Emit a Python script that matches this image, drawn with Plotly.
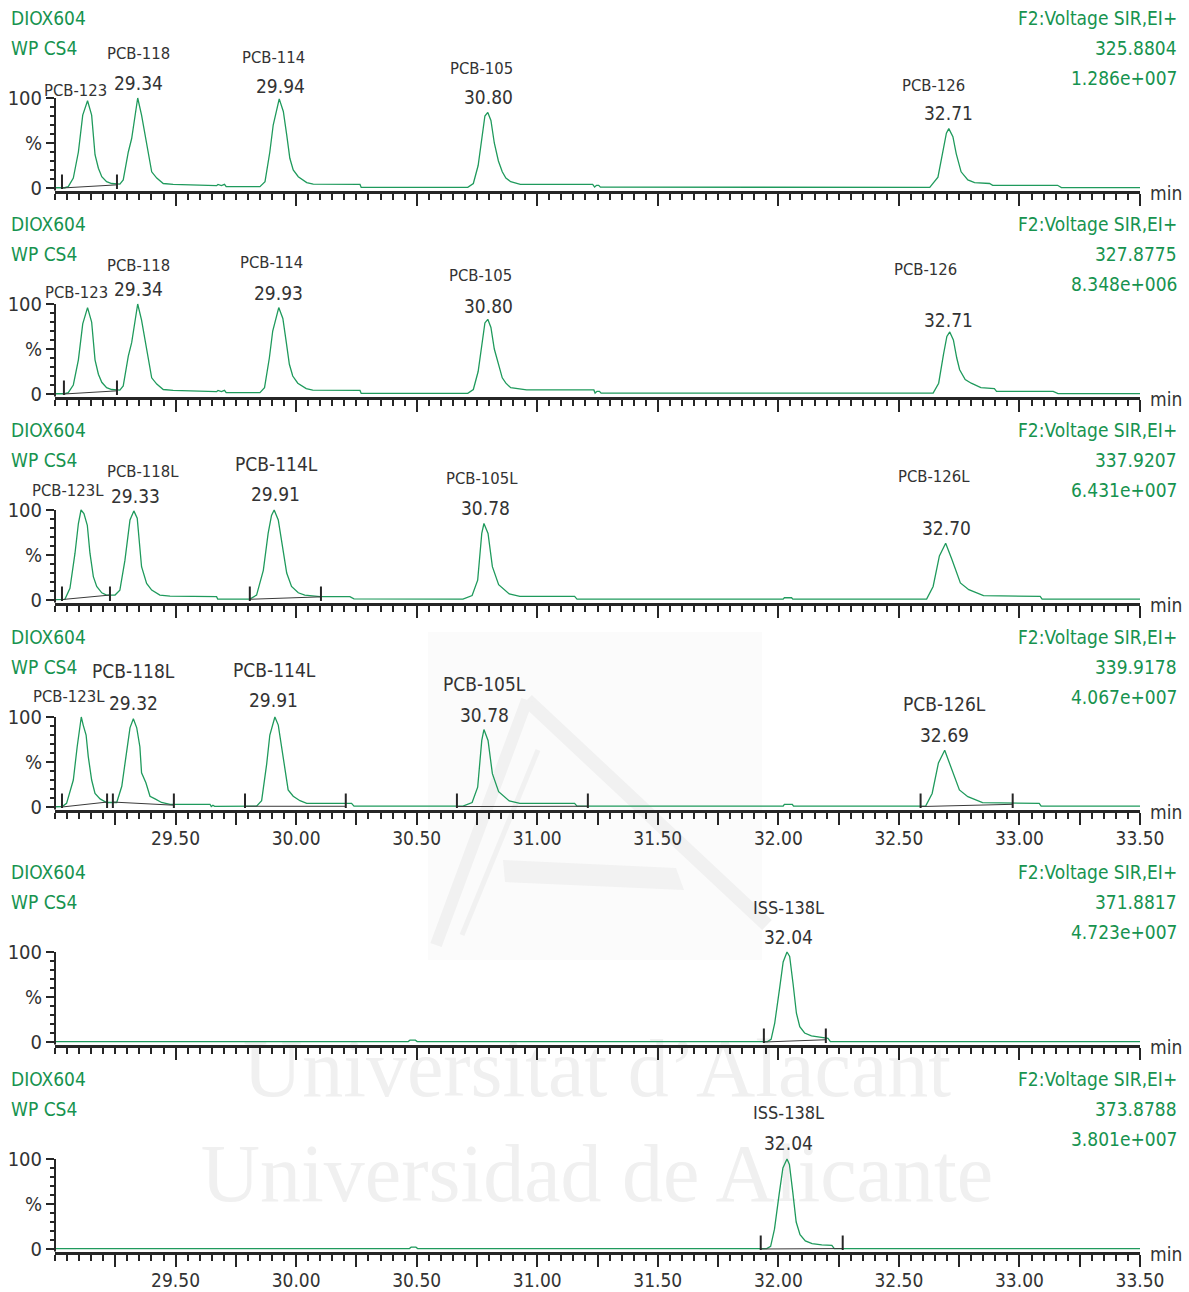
import plotly.graph_objects as go

# ---------------- data ----------------
sample_name = "DIOX604"
sample_desc = "WP CS4"
function_label = "F2:Voltage SIR,EI+"
masses = ["325.8804", "327.8775", "337.9207", "339.9178", "371.8817", "373.8788"]
intensities = ["1.286e+007", "8.348e+006", "6.431e+007", "4.067e+007", "4.723e+007", "3.801e+007"]

tick_labels = ["29.50", "30.00", "30.50", "31.00", "31.50", "32.00", "32.50", "33.00", "33.50"]

# chromatogram traces: (time [min], relative intensity [%])
trace_325 = [(29.000, 0.3), (29.040, 0.3), (29.055, 1.5), (29.076, 11), (29.097, 40), (29.115, 81), (29.135, 97),
             (29.152, 81), (29.166, 37), (29.180, 22), (29.194, 12.6), (29.214, 7), (29.235, 5), (29.269, 4.4),
             (29.283, 9), (29.304, 40), (29.318, 55), (29.343, 100), (29.359, 81), (29.373, 61), (29.387, 37),
             (29.401, 18), (29.422, 11), (29.449, 5), (29.490, 4), (29.670, 2.6), (29.676, 4), (29.690, 2.6),
             (29.703, 4), (29.710, 1.5), (29.850, 1.5),
             (29.871, 7), (29.891, 40), (29.905, 70), (29.930, 99), (29.947, 85), (29.961, 59), (29.974, 33),
             (29.988, 20), (30.009, 12.6), (30.044, 6), (30.071, 4.4), (30.265, 4), (30.270, 0.7),
             (30.712, 0.7), (30.735, 5), (30.755, 25), (30.770, 55), (30.783, 80), (30.795, 84), (30.808, 75),
             (30.822, 50), (30.839, 30), (30.855, 18), (30.870, 11), (30.890, 7), (30.930, 4), (31.230, 4),
             (31.238, 1), (31.246, 3), (31.255, 3), (31.262, 1),
             (32.628, 0.7), (32.662, 12), (32.683, 42), (32.697, 61), (32.707, 66), (32.724, 57), (32.738, 38),
             (32.758, 18), (32.786, 9), (32.814, 6), (32.876, 5), (32.889, 3), (33.158, 3), (33.174, 0.5),
             (33.500, 0.5)]

trace_327 = [(29.000, 0.3), (29.040, 0.3), (29.055, 1.5), (29.076, 10), (29.097, 38), (29.115, 78), (29.135, 96),
             (29.152, 80), (29.166, 38), (29.180, 22), (29.194, 13), (29.214, 7), (29.235, 5), (29.269, 4.4),
             (29.283, 9), (29.304, 42), (29.318, 57), (29.343, 100), (29.359, 82), (29.373, 60), (29.387, 36),
             (29.401, 18), (29.422, 11), (29.449, 5), (29.490, 4), (29.670, 2.6), (29.676, 4), (29.690, 2.6),
             (29.703, 4), (29.710, 1.5), (29.850, 1.5),
             (29.869, 7), (29.889, 40), (29.903, 70), (29.928, 96), (29.945, 84), (29.959, 58), (29.972, 33),
             (29.986, 20), (30.007, 12), (30.042, 6), (30.069, 4.4), (30.265, 4), (30.270, 0.7),
             (30.712, 0.7), (30.735, 5), (30.755, 25), (30.770, 55), (30.783, 79), (30.795, 83), (30.808, 74),
             (30.822, 50), (30.839, 32), (30.855, 18), (30.870, 12), (30.890, 7), (30.956, 4.5), (31.235, 4.5),
             (31.240, 1), (31.248, 3), (31.258, 3), (31.265, 1),
             (32.642, 1), (32.665, 12), (32.685, 44), (32.699, 64), (32.711, 69), (32.726, 60), (32.740, 40),
             (32.752, 27), (32.775, 16), (32.800, 12), (32.840, 7), (32.896, 6), (32.905, 3), (33.140, 3),
             (33.160, 0.5), (33.500, 0.5)]

trace_337 = [(29.000, 0.5), (29.041, 0.8), (29.062, 13), (29.083, 52), (29.097, 85), (29.108, 100), (29.120, 96),
             (29.134, 83), (29.145, 52), (29.159, 26), (29.173, 15), (29.194, 8), (29.214, 5.5), (29.249, 5.5),
             (29.269, 11), (29.290, 44), (29.311, 89), (29.327, 99), (29.341, 91), (29.359, 37), (29.380, 18.5),
             (29.401, 11), (29.435, 5.5), (29.477, 4.4), (29.670, 3.7), (29.675, 1), (29.808, 1),
             (29.836, 5.5), (29.864, 33), (29.884, 74), (29.898, 94), (29.909, 100), (29.926, 89), (29.944, 56),
             (29.961, 30), (29.981, 15), (30.009, 8), (30.036, 5.5), (30.099, 3.7), (30.223, 3.7), (30.240, 1.2),
             (30.692, 1), (30.730, 5), (30.753, 22), (30.770, 74), (30.779, 85), (30.796, 74), (30.814, 37),
             (30.840, 17), (30.884, 6.7), (30.928, 4), (31.155, 4), (31.165, 1),
             (32.020, 1), (32.025, 2.5), (32.055, 2.5), (32.060, 1),
             (32.615, 1), (32.642, 15), (32.668, 49), (32.694, 63), (32.720, 45), (32.755, 19), (32.790, 11.5),
             (32.851, 4.8), (33.086, 4), (33.094, 1), (33.500, 1)]

trace_339 = [(29.000, 0.3), (29.030, 0.5), (29.048, 4), (29.076, 30), (29.092, 67), (29.104, 95), (29.109, 100),
             (29.117, 91), (29.129, 80), (29.138, 56), (29.152, 30), (29.166, 15), (29.187, 9), (29.214, 5),
             (29.240, 4.5),
             (29.256, 5), (29.277, 23), (29.297, 60), (29.311, 88), (29.325, 98), (29.339, 88), (29.352, 67),
             (29.359, 38), (29.377, 27), (29.394, 12), (29.415, 9), (29.442, 5), (29.477, 3), (29.643, 3),
             (29.648, 0.5), (29.655, 2), (29.662, 0.8), (29.836, 1),
             (29.857, 7), (29.878, 48), (29.891, 80), (29.912, 100), (29.926, 91), (29.940, 67), (29.954, 41),
             (29.967, 19), (29.988, 12), (30.016, 7), (30.044, 4), (30.230, 4), (30.240, 1),
             (30.692, 1), (30.730, 5), (30.753, 22), (30.770, 74), (30.779, 86), (30.796, 74), (30.814, 37),
             (30.840, 17), (30.884, 6.7), (30.928, 4), (31.155, 4), (31.165, 1),
             (32.020, 1), (32.025, 3), (32.058, 3), (32.063, 1),
             (32.611, 1), (32.638, 15), (32.664, 49), (32.690, 63), (32.716, 45), (32.751, 19), (32.786, 11.5),
             (32.847, 4.8), (33.082, 4), (33.090, 1), (33.500, 1)]

trace_371 = [(29.000, 0.5), (30.465, 0.5), (30.472, 2), (30.495, 2), (30.502, 0.5), (31.955, 0.5),
             (31.970, 3), (31.985, 21), (32.006, 61), (32.020, 89), (32.036, 100), (32.047, 95), (32.061, 65),
             (32.075, 32), (32.089, 17), (32.109, 10), (32.137, 6.7), (32.172, 5), (32.206, 4), (32.216, 0.5),
             (33.500, 0.5)]

trace_373 = [(29.000, 0.5), (30.470, 0.5), (30.477, 2), (30.497, 2), (30.504, 0.5), (31.952, 0.5),
             (31.968, 3), (31.984, 22), (32.004, 62), (32.019, 90), (32.036, 100), (32.046, 94), (32.060, 63),
             (32.074, 30), (32.090, 16), (32.112, 9), (32.140, 6), (32.180, 4.5), (32.222, 4), (32.232, 0.5),
             (33.500, 0.5)]

traces = [trace_325, trace_327, trace_337, trace_339, trace_371, trace_373]

# integration limits (time) and integration baselines (t0, y0, t1, y1)
int_marks = [
    [29.029, 29.257],
    [29.037, 29.257],
    [29.029, 29.228, 29.808, 30.103],
    [29.029, 29.216, 29.240, 29.493, 29.788, 30.206, 30.667, 31.210, 32.590, 32.972],
    [31.940, 32.197],
    [31.927, 32.267],
]
int_baselines = [
    [(29.029, 0, 29.257, 3.5)],
    [(29.037, 0, 29.257, 3.5)],
    [(29.029, 0.5, 29.228, 5.5), (29.808, 0.8, 30.103, 3.5)],
    [(29.029, 0, 29.216, 5.5), (29.240, 5.5, 29.493, 2), (29.788, 0.8, 30.206, 0.8),
     (30.667, 0.5, 31.210, 0.8), (32.590, 0.5, 32.972, 3)],
    [(31.940, 0, 32.197, 2.5)],
    [(31.927, 0, 32.267, 0.5)],
]

# peak annotation texts per panel
peak_texts = [
    ["PCB-123", "PCB-118", "29.34", "PCB-114", "29.94", "PCB-105", "30.80", "PCB-126", "32.71"],
    ["PCB-123", "PCB-118", "29.34", "PCB-114", "29.93", "PCB-105", "30.80", "PCB-126", "32.71"],
    ["PCB-123L", "PCB-118L", "29.33", "PCB-114L", "29.91", "PCB-105L", "30.78", "PCB-126L", "32.70"],
    ["PCB-123L", "PCB-118L", "29.32", "PCB-114L", "29.91", "PCB-105L", "30.78", "PCB-126L", "32.69"],
    ["ISS-138L", "32.04"],
    ["ISS-138L", "32.04"],
]

# ---------------- layout / style ----------------
W, H = 1189, 1292
FONT = "DejaVu Sans Condensed, Liberation Sans Narrow, Arial Narrow, sans-serif"
GREEN = "#17934f"
TRACE = "#1f9a5c"
DARK = "#262626"
TEXT = "#333333"
X0PX, X1PX = 55, 1140
Y_LO, Y_HI = -3, 112
PXU = 0.9  # pixels per percent
panel_p0 = [188, 394, 600, 807, 1042, 1249]
labelled = [3, 5]
HDR = 19
NUM = 19
SMALL = 16.5
BIG = 19

# label pixel positions (x centre, y centre, font size)
peak_pos = [
    [(75, 90, SMALL), (138, 53, SMALL), (138, 83, NUM), (273, 58, SMALL), (280, 86, NUM), (482, 69, SMALL),
     (488, 97, NUM), (933, 86, SMALL), (948, 113, NUM)],
    [(76, 293, SMALL), (138, 265, SMALL), (138, 289, NUM), (271, 262, SMALL), (278, 293, NUM),
     (480, 275, SMALL), (488, 306, NUM), (925, 270, SMALL), (948, 320, NUM)],
    [(68, 491, SMALL), (143, 471, SMALL), (135, 496, NUM), (276, 464, BIG), (275, 494, NUM),
     (482, 478, SMALL), (485, 508, NUM), (934, 476, SMALL), (946, 528, NUM)],
    [(69, 696, SMALL), (133, 671, BIG), (133, 703, NUM), (274, 670, BIG), (273, 700, NUM), (484, 684, BIG),
     (484, 715, NUM), (944, 704, BIG), (944, 735, NUM)],
    [(788, 907, 18), (788, 937, NUM)],
    [(788, 1112, 18), (788, 1143, NUM)],
]


def py(px):
    return 1 - px / H


def pxx(px):
    return px / W


fig = go.Figure()

# background subplot (watermark), drawn first so it stays under everything
fig.add_trace(go.Scatter(
    x=[597, 597], y=[1075, 1180],
    text=["Universitat d\u2019Alacant", "Universidad de Alicante"],
    mode="text", textfont=dict(family="Liberation Serif, DejaVu Serif, serif", size=82, color="#f0f0f0"),
    hoverinfo="skip", showlegend=False, xaxis="x", yaxis="y"))
fig.update_layout(
    xaxis=dict(domain=[0, 1], range=[0, W], visible=False, fixedrange=True, automargin=False),
    yaxis=dict(domain=[0, 1], range=[H, 0], visible=False, fixedrange=True, automargin=False),
)

major_vals = [29.25 + 0.25 * k for k in range(18)]
major_text = []
j = 0
for v in major_vals:
    if abs(v * 2 - round(v * 2)) < 1e-9:
        major_text.append(tick_labels[j])
        j += 1
    else:
        major_text.append("")

shapes = []
annotations = []

# faint logo watermark
shapes.append(dict(type="rect", xref="paper", yref="paper", x0=pxx(428), x1=pxx(762), y0=py(960), y1=py(632),
                   fillcolor="#fbfbfb", line=dict(width=0), layer="below"))
for (a, b, c, d, w) in [(527, 700, 767, 925, 14), (527, 700, 436, 945, 12), (538, 750, 462, 935, 5)]:
    shapes.append(dict(type="line", xref="paper", yref="paper", x0=pxx(a), y0=py(b), x1=pxx(c), y1=py(d),
                       line=dict(color="#f1f1f1", width=w), layer="below"))
shapes.append(dict(type="path", xref="paper", yref="paper",
                   path=f"M {pxx(503)},{py(860)} L {pxx(676)},{py(868)} L {pxx(684)},{py(890)} L {pxx(505)},{py(882)} Z",
                   fillcolor="#f2f2f2", line=dict(width=0), layer="below"))


def ann(text, xpx, ypx, anchor, color, size):
    annotations.append(dict(text=text, xref="paper", yref="paper", x=pxx(xpx), y=py(ypx),
                            xanchor=anchor, yanchor="middle", showarrow=False,
                            font=dict(family=FONT, size=size, color=color)))


for i in range(6):
    n = i + 2
    p0 = panel_p0[i]
    xa, ya = f"x{n}", f"y{n}"
    dom_y = [py(p0 + (0 - Y_LO) * PXU), py(p0 - Y_HI * PXU)]
    fig.layout[f"xaxis{n}"] = dict(
        domain=[pxx(X0PX), pxx(X1PX)], range=[29.0, 33.5], anchor=ya, automargin=False,
        showline=True, linewidth=3, linecolor=DARK, mirror=False,
        ticks="outside", tickmode="array", tickvals=major_vals, ticktext=major_text,
        ticklen=12, tickwidth=1.5, tickcolor=DARK,
        showticklabels=(i in labelled), ticklabelstandoff=-3,
        tickfont=dict(family=FONT, size=19, color=TEXT),
        minor=dict(tick0=29.0, dtick=0.05, ticks="outside", ticklen=6, tickwidth=1.5, tickcolor=DARK,
                   showgrid=False),
        showgrid=False, zeroline=False, fixedrange=True)
    fig.layout[f"yaxis{n}"] = dict(
        domain=dom_y, range=[Y_LO, Y_HI], anchor=xa, automargin=False,
        showline=False, ticks="outside", tickmode="array", tickvals=[0, 50, 100],
        ticktext=["0", "%", "100"], ticklen=8, tickwidth=1.5, tickcolor=DARK,
        tickfont=dict(family=FONT, size=20, color=TEXT),
        minor=dict(tickmode="array", tickvals=[10, 20, 30, 40, 60, 70, 80, 90], ticks="outside", ticklen=4,
                   tickwidth=1.5, tickcolor=DARK, showgrid=False),
        showgrid=False, zeroline=False, fixedrange=True)

    # y axis line from 0 to 100 only
    shapes.append(dict(type="line", xref=f"{xa} domain", yref=ya, x0=0, x1=0, y0=Y_LO, y1=100,
                       line=dict(color=DARK, width=2)))

    # chromatogram
    tt = [p[0] for p in traces[i]]
    vv = [p[1] for p in traces[i]]
    fig.add_trace(go.Scatter(x=tt, y=vv, xaxis=xa, yaxis=ya, mode="lines",
                             line=dict(color=TRACE, width=1.3), hoverinfo="skip", showlegend=False))

    # integration baselines
    bx, by = [], []
    for (t0, y0, t1, y1) in int_baselines[i]:
        bx += [t0, t1, None]
        by += [y0, y1, None]
    fig.add_trace(go.Scatter(x=bx, y=by, xaxis=xa, yaxis=ya, mode="lines",
                             line=dict(color="#3a3a3a", width=1), hoverinfo="skip", showlegend=False))
    # integration limit marks
    mx, my = [], []
    for t in int_marks[i]:
        mx += [t, t, None]
        my += [-1, 15, None]
    fig.add_trace(go.Scatter(x=mx, y=my, xaxis=xa, yaxis=ya, mode="lines",
                             line=dict(color=DARK, width=2), hoverinfo="skip", showlegend=False))

    ann(sample_name, 9, p0 - 170, "left", GREEN, HDR)
    ann(sample_desc, 9, p0 - 140, "left", GREEN, HDR)
    ann(function_label, 1179, p0 - 170, "right", GREEN, HDR)
    ann(masses[i], 1179, p0 - 140, "right", GREEN, HDR)
    ann(intensities[i], 1179, p0 - 110, "right", GREEN, HDR)
    ann("min", 1148, p0 + 5, "left", TEXT, 19)

    for text, (xp, yp, fs) in zip(peak_texts[i], peak_pos[i]):
        ann(text, xp, yp, "center", TEXT, fs)

fig.update_layout(
    width=W, height=H, margin=dict(l=0, r=0, t=0, b=0, pad=0), autosize=False,
    paper_bgcolor="white", plot_bgcolor="rgba(0,0,0,0)",
    shapes=shapes, annotations=annotations, showlegend=False,
    font=dict(family=FONT),
)

fig.write_html(
    "out.html",
    config={"responsive": False, "displayModeBar": False},
    post_script="document.documentElement.style.overflow='hidden';"
                "document.body.style.overflow='hidden';document.body.style.margin='0';",
)
